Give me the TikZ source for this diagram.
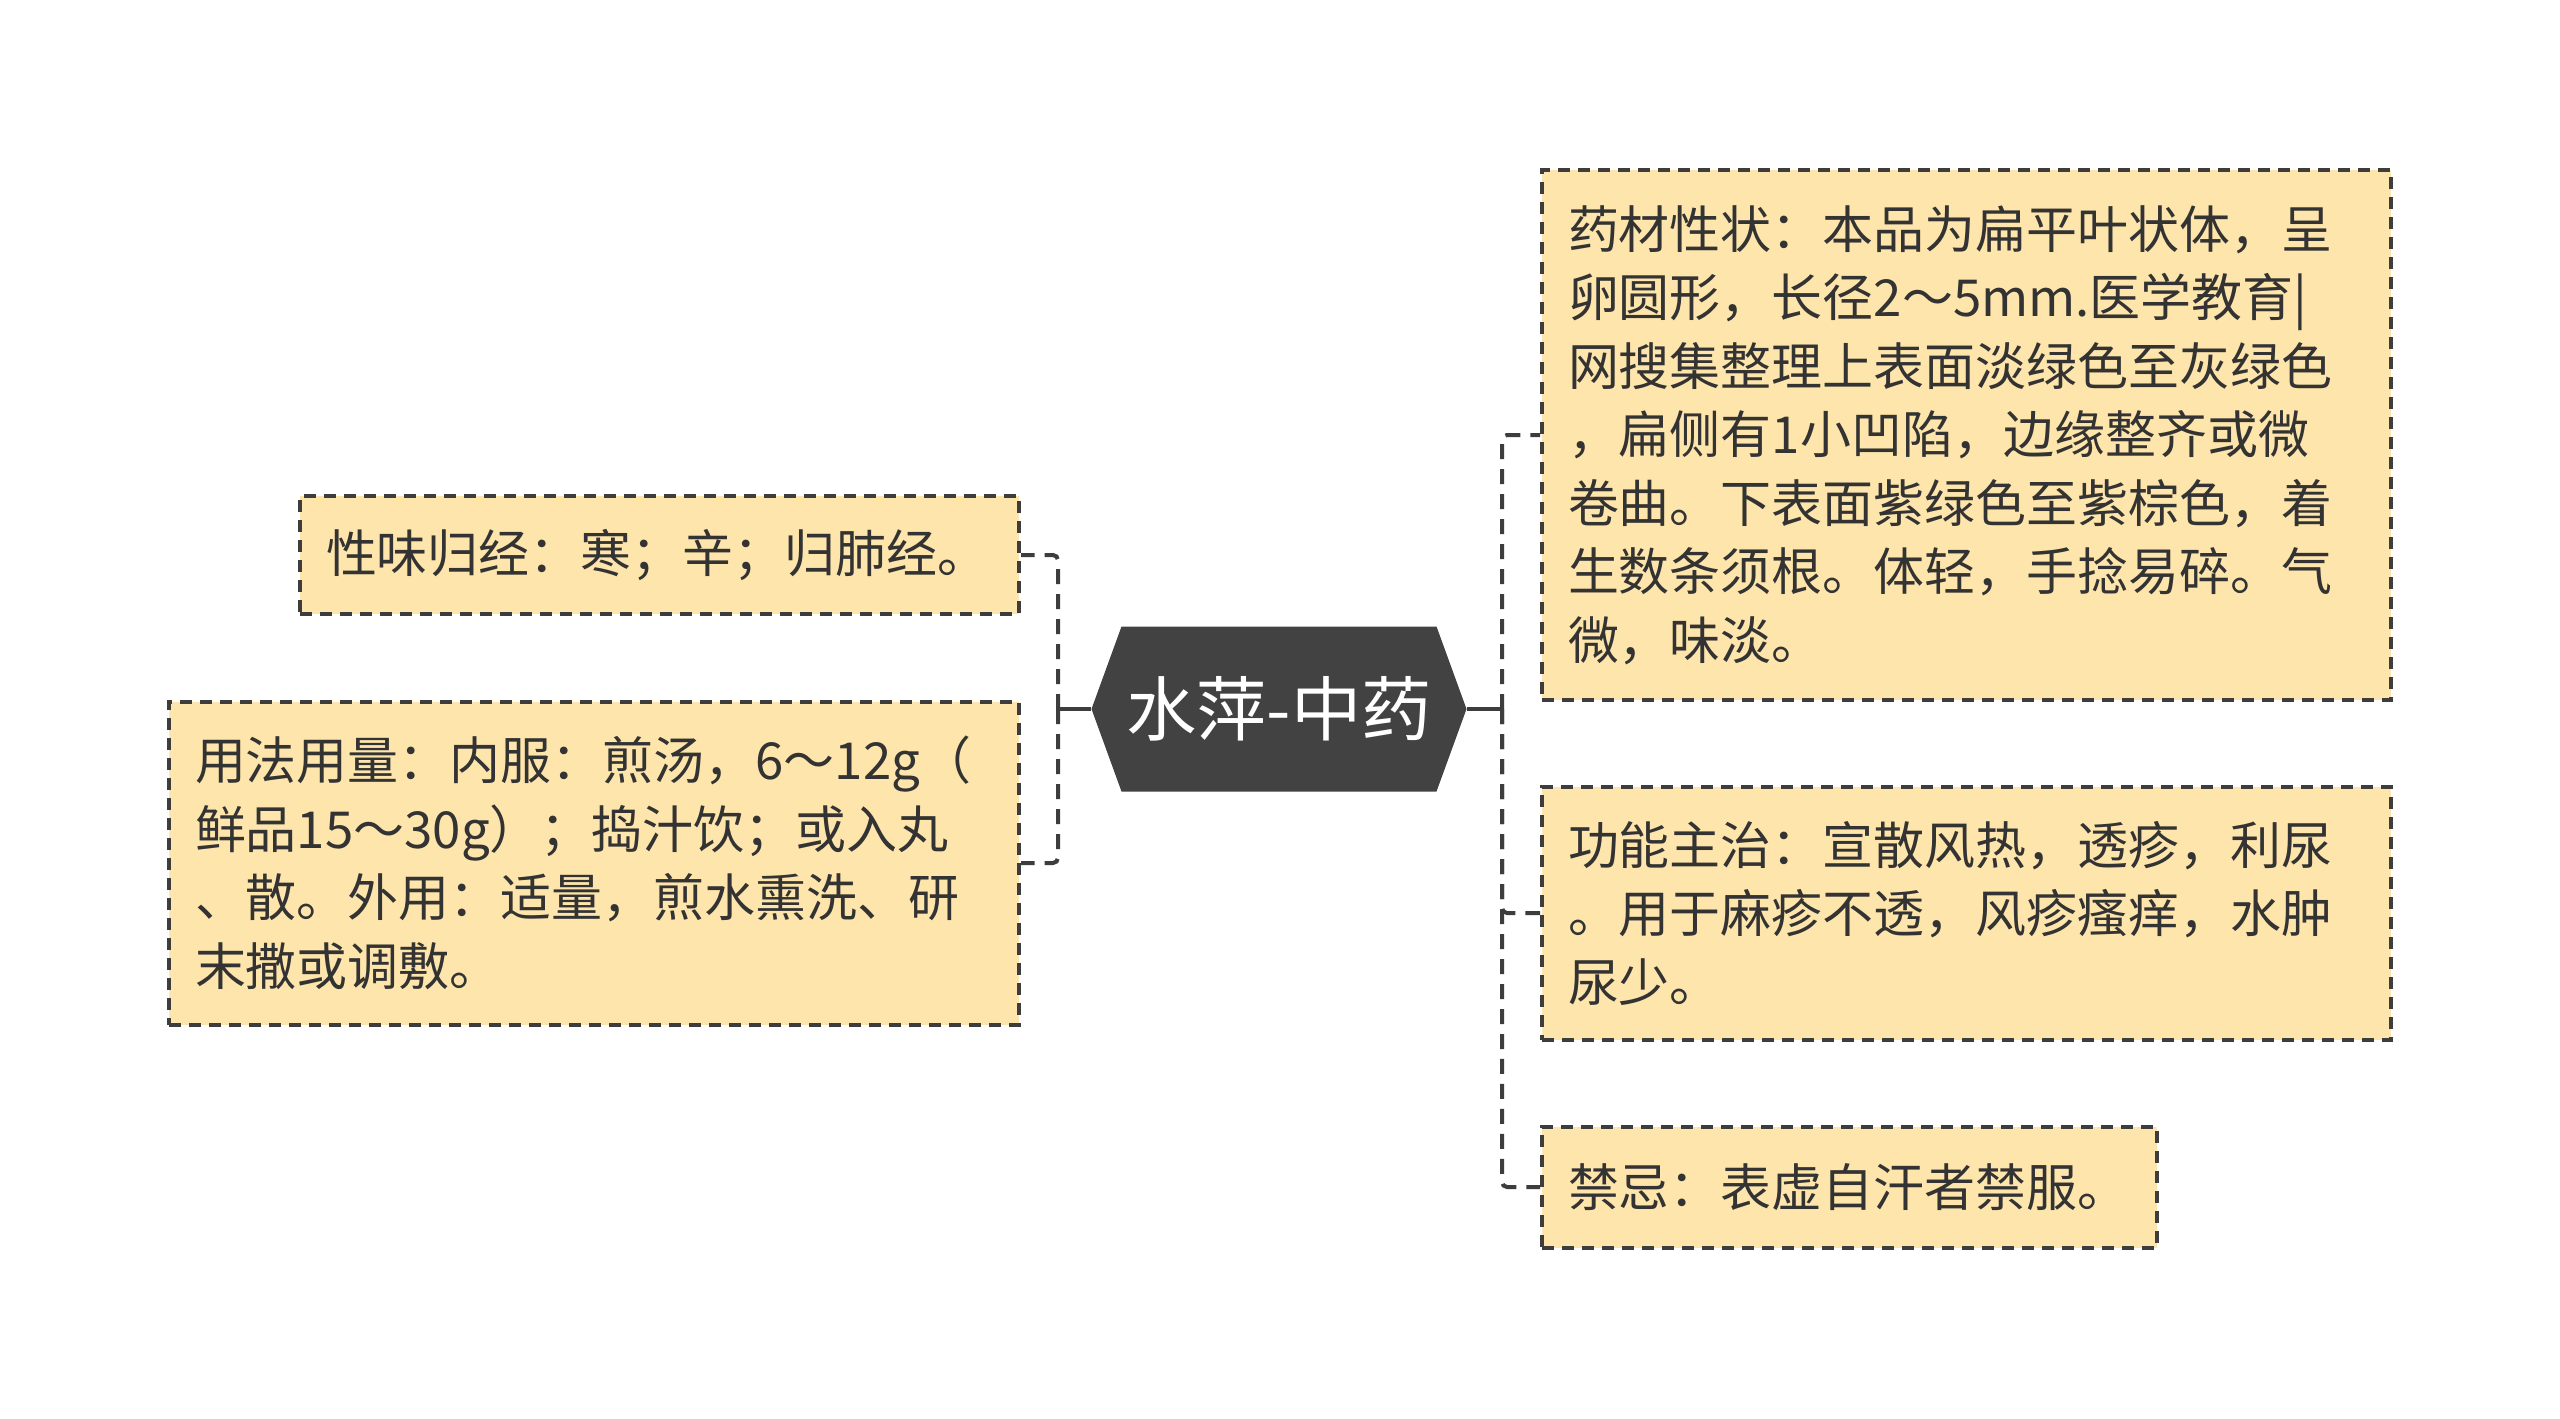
\documentclass[tikz,border=0pt]{standalone}
\usepackage{fontspec}
\setmainfont{Noto Sans CJK SC}
\usepackage{tikz}
\definecolor{hubgray}{HTML}{424242}
\definecolor{leafyellow}{HTML}{FEE5AB}
\definecolor{linegray}{HTML}{3D3D3D}
\definecolor{textgray}{HTML}{333333}

\begin{document}
\begin{tikzpicture}[x=0.1mm, y=-0.1mm,
  leaf/.style={fill=leafyellow, draw=linegray, line width=0.4mm, dash pattern=on 1.2mm off 0.8mm,
    inner xsep=2.6mm, inner ysep=2mm, align=left, anchor=west, text=textgray,
    font=\fontsize{14.5}{19.5}\selectfont},
  hub/.style={text=white, minimum width=37.5mm, minimum height=16.5mm, inner sep=0pt,
    font=\fontsize{20}{24}\selectfont,
    path picture={\fill[hubgray]
      ([xshift=3mm]path picture bounding box.north west) -- ([xshift=-3mm]path picture bounding box.north east)
      -- (path picture bounding box.east) -- ([xshift=-3mm]path picture bounding box.south east)
      -- ([xshift=3mm]path picture bounding box.south west) -- (path picture bounding box.west) -- cycle;}},
  stem/.style={draw=linegray, line width=0.4mm},
  link/.style={draw=linegray, line width=0.4mm, dash pattern=on 1.5mm off 1mm, rounded corners=0.5mm}]
  \fill[white] (0,0) rectangle (2560,1419);
  \useasboundingbox (0,0) rectangle (2560,1419);

  % centre
  \node[hub] (hub) at (1279,709) {水萍-中药};
  \coordinate (lj) at (1058,709);
  \coordinate (rj) at (1502,709);

  % right side
  \node[leaf, text width=79.7mm, minimum height=53mm] (shape) at (1540,435)
    {药材性状：本品为扁平叶状体，呈\\
     卵圆形，长径2～5mm.医学教育|\\
     网搜集整理上表面淡绿色至灰绿色\\
     ，扁侧有1小凹陷，边缘整齐或微\\
     卷曲。下表面紫绿色至紫棕色，着\\
     生数条须根。体轻，手捻易碎。气\\
     微，味淡。};
  \node[leaf, text width=79.7mm, minimum height=25.3mm] (effect) at (1540,913)
    {功能主治：宣散风热，透疹，利尿\\
     。用于麻疹不透，风疹瘙痒，水肿\\
     尿少。};
  \node[leaf, text width=56.3mm, minimum height=12.1mm] (taboo) at (1540,1187)
    {禁忌：表虚自汗者禁服。};

  % left side
  \node[leaf, anchor=east, text width=66.7mm, minimum height=11.8mm] (taste) at (1021,555)
    {性味归经：寒；辛；归肺经。};
  \node[leaf, anchor=east, text width=79.8mm, minimum height=32.3mm] (usage) at (1021,863)
    {用法用量：内服：煎汤，6～12g（\\
     鲜品15～30g）；捣汁饮；或入丸\\
     、散。外用：适量，煎水熏洗、研\\
     末撒或调敷。};

  \draw[stem] (hub.west) -- (lj);
  \draw[stem] (hub.east) -- (rj);
  \draw[link] (rj) |- (shape.west);
  \draw[link] (rj) |- (effect.west);
  \draw[link] (rj) |- (taboo.west);
  \draw[link] (lj) |- (taste.east);
  \draw[link] (lj) |- (usage.east);
\end{tikzpicture}
\end{document}
